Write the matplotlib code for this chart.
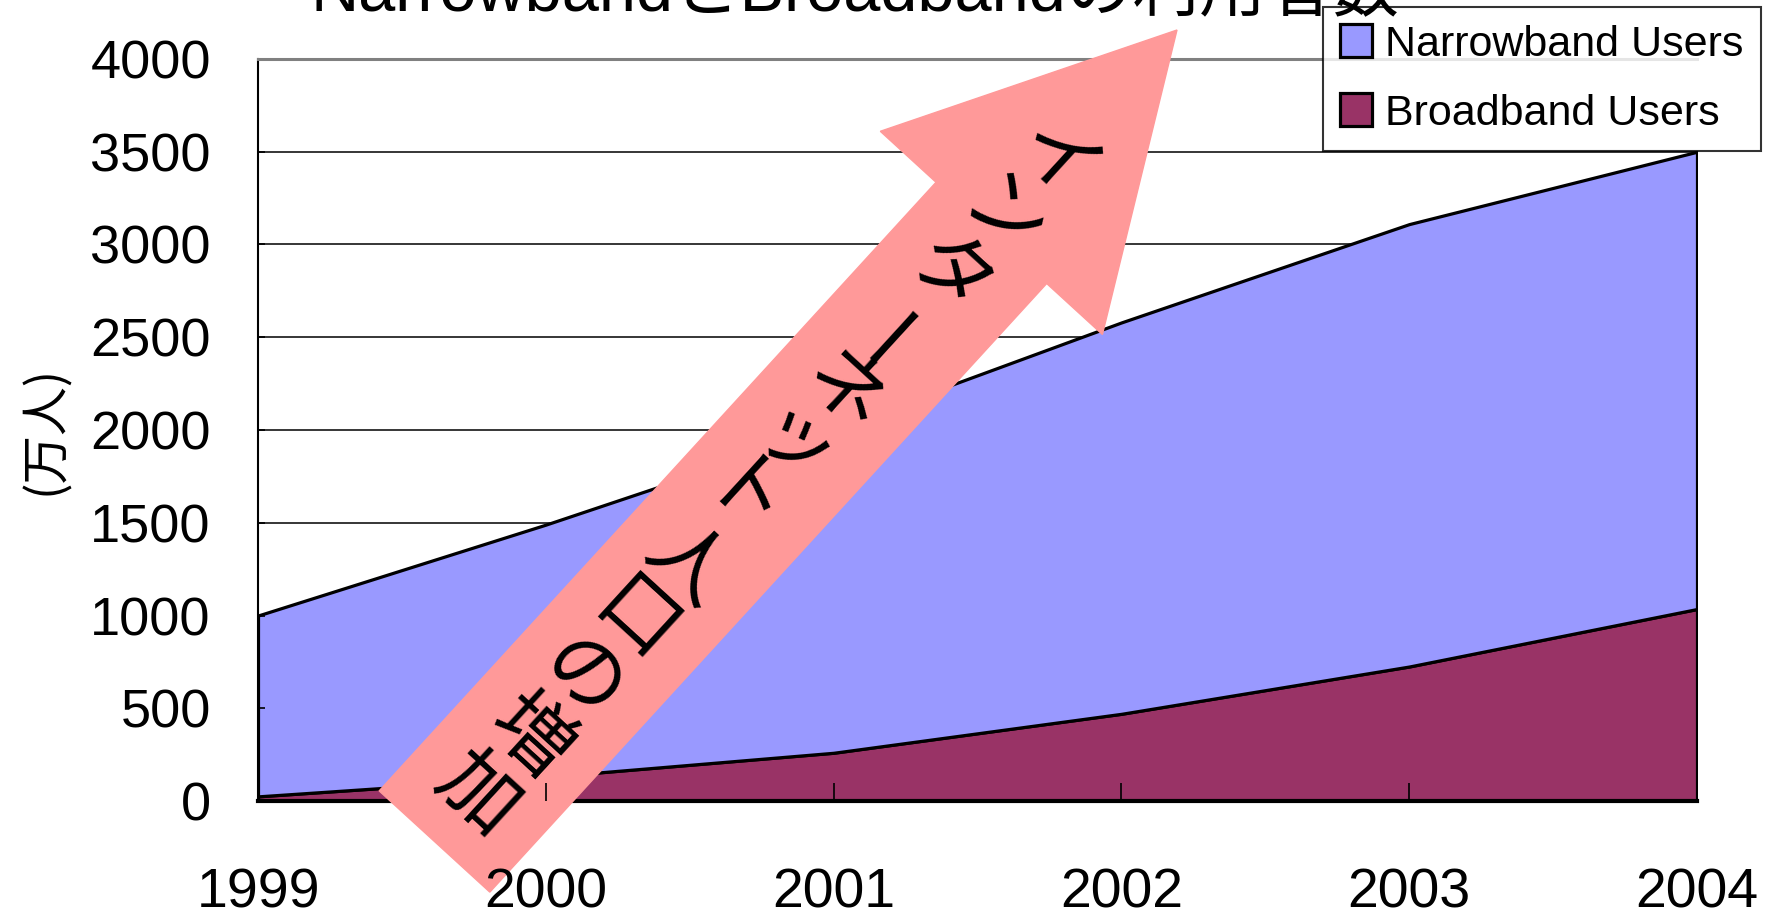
import math
import matplotlib
matplotlib.use("Agg")
import matplotlib.pyplot as plt
import matplotlib.patches as mpatches
from matplotlib import font_manager

# data (万人, stacked area)
years = [1999, 2000, 2001, 2002, 2003, 2004]
broadband = [25, 130, 260, 470, 725, 1035]
narrowband = [975, 1360, 1750, 2110, 2385, 2465]
y_ticks = [0, 500, 1000, 1500, 2000, 2500, 3000, 3500, 4000]
series_names = ["Broadband Users", "Narrowband Users"]
series_colors = ["#993366", "#9999FF"]

title_text = "NarrowbandとBroadbandの利用者数"
ylabel_text = "(万人)"
arrow_text = "インターネット人口の増加"

# fonts: Arial-like latin with CJK fallback
installed = {f.name for f in font_manager.fontManager.ttflist}
sans = "Liberation Sans" if "Liberation Sans" in installed else "DejaVu Sans"
cjk = "Noto Sans CJK JP"
plt.rcParams['font.family'] = [sans, cjk, 'DejaVu Sans']

W, H = 17.69, 9.21
fig = plt.figure(figsize=(W, H), dpi=100)
ax = fig.add_axes([258 / 1769, 120 / 921, 1439 / 1769, 742 / 921])

# stacked areas
polys = ax.stackplot(years, broadband, narrowband, colors=series_colors,
                     labels=series_names, edgecolor='black', linewidth=2.3, zorder=1)

# gridlines behind the areas
ax.hlines(y_ticks[1:-1], years[0], years[-1], colors='black', linewidth=1.1, zorder=0.5)

ax.set_xlim(years[0], years[-1])
ax.set_ylim(y_ticks[0], y_ticks[-1])
ax.set_xticks(years)
ax.set_yticks(y_ticks)

ax.spines['right'].set_visible(False)
ax.spines['top'].set_color('#808080')
ax.spines['top'].set_linewidth(2.2)
ax.spines['left'].set_linewidth(1.5)
ax.spines['bottom'].set_linewidth(3)

ax.tick_params(axis='y', direction='in', length=5, width=1.2, pad=34, labelsize=39)
ax.tick_params(axis='x', direction='in', length=13, width=1.2, pad=48, labelsize=40)
ax.xaxis.set_zorder(3.5)

ax.set_ylabel(ylabel_text, family=[cjk, 'DejaVu Sans'], fontsize=35, va='center')
ax.yaxis.set_label_coords(-0.148, 0.5)

# title, mostly cut off by the top edge as in the original
fig.text(855 / 1769, 1 - 10 / 921, title_text, ha='center', va='baseline',
         fontsize=48, family=[sans, cjk, 'DejaVu Sans'])

# legend
handles, labels = ax.get_legend_handles_labels()
leg = ax.legend(handles[::-1], labels[::-1], loc='upper right',
                bbox_to_anchor=(1761 / 1769, 1 - 7 / 921), bbox_transform=fig.transFigure,
                fontsize=31, frameon=True, fancybox=False, borderaxespad=0,
                handlelength=0.75, handleheight=0.8, handletextpad=0.3,
                labelspacing=0.66, borderpad=0.4)
leg.get_frame().set_edgecolor('black')
leg.get_frame().set_linewidth(1.5)
leg.set_zorder(6)

# big pink arrow with vertical-style text (inches, origin bottom-left)
tail = (4.345, 0.795)
tip = (11.77, 8.91)
dx, dy = tip[0] - tail[0], tip[1] - tail[1]
length = math.hypot(dx, dy)
arrow = mpatches.FancyArrow(tail[0], tail[1], dx, dy, width=1.50, head_width=3.01,
                            head_length=2.75, length_includes_head=True,
                            color='#FF9999', transform=fig.dpi_scale_trans,
                            clip_on=False, zorder=3)
ax.add_patch(arrow)

ux, uy = dx / length, dy / length
angle = math.degrees(math.atan2(dy, dx))
first_pos = 9.19  # distance of the first character from the tail
step = 0.778
for i, ch in enumerate(arrow_text):
    d = first_pos - i * step
    rot = angle if ch == 'ー' else angle - 90
    ax.text(tail[0] + ux * d, tail[1] + uy * d, ch, rotation=rot, rotation_mode='anchor',
            ha='center', va='center', fontsize=58, family=[cjk, 'DejaVu Sans'],
            transform=fig.dpi_scale_trans, clip_on=False, zorder=3.2)

fig.savefig('out.png', dpi=100)
